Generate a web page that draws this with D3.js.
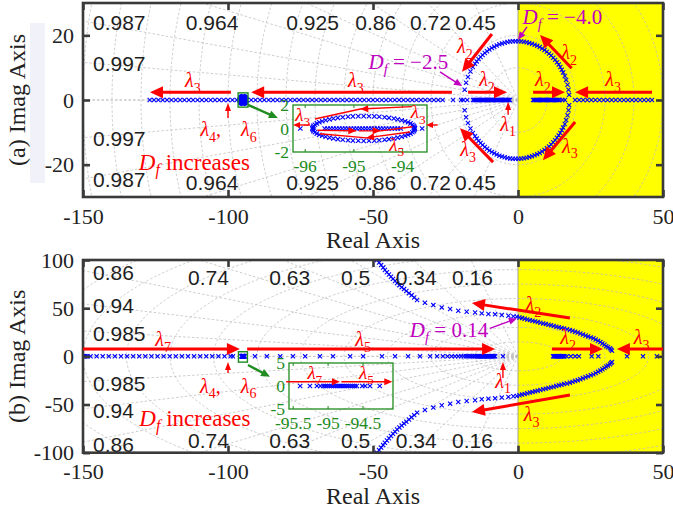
<!DOCTYPE html>
<html><head><meta charset="utf-8">
<script src="https://cdn.jsdelivr.net/npm/d3@7"></script>
<style>body{margin:0;background:#fff}</style>
</head><body><svg id="c" width="673" height="514"></svg>
<script>
// ================= DATA =================
const xTicks = [-150, -100, -50, 0, 50];
const yTicksA = [-20, 0, 20];
const yTicksB = [-100, -50, 0, 50, 100];
const zetaA = [0.45, 0.72, 0.86, 0.925, 0.964, 0.987, 0.997];
const zetaB = [0.16, 0.34, 0.5, 0.63, 0.74, 0.86, 0.94, 0.985];
const wnA = [10, 20, 30, 40, 50, 60, 70, 80, 90, 100, 110, 120, 130, 140, 150, 160];
const wnB = [15, 30, 45, 60, 75, 90, 105, 120, 135, 150, 165, 180];

// (a) poles on the real axis
const aReal = [-127,-125.5,-124,-122.5,-121,-119.5,-118,-116.5,-115,-113.5,-112,-110.5,-109,-107.5,-106,-104.5,-103,-101.5,-100,-98.5,-97,-96.1,-93.6,-92,-90.5,-89,-87.5,-86,-84.5,-83,-81.5,-80,-78.5,-77,-75.5,-74,-72.5,-71,-69.5,-68,-66.5,-65,-63.5,-62,-60.5,-59,-57.5,-56,-54.5,-53,-51.5,-50,-48.5,-47,-45.5,-44,-42.5,-41,-39.5,-38,-36.5,-35,-33.5,-32,-30.5,-29,-27.5,-26,-22.4,-19.6,-18.8,-17.5,-15.5,-15.1,-14.7,-14.3,-13.9,-13.5,-13.1,-12.7,-12.3,-11.9,-11.5,-11.1,-10.7,-10.3,-9.9,-9.5,-9.1,-8.7,-8.3,-7.9,-7.5,-7.1,-6.7,-6.3,-5.9,-5.5,-5.1,-4.7,-4.3,-3.9,-3.5,-3.1,-2.8,
  5.2,5.6,6,6.4,6.8,7.2,7.6,8,8.4,8.8,9.2,9.6,10,10.4,10.8,11.2,11.6,12,12.4,12.8,13.2,13.6,14,14.4,15.3,16.2,19.7,21.1,22.5,23.9,25.3,26.7,28.1,29.5,30.9,32.3,33.7,35.1,36.5,37.9,39.3,40.7,42.1,43.5,44.9,46.2];
// (a) complex pair loop (upper half; lower half is the conjugate)
const aLoopUpper = [[-18.4,3.16],[-17.9,5.32],[-17.25,7.11],[-16.4,8.82],[-15.6,10.2],[-14.84,11.2],[-14.24,11.94],[-13.6,12.64],[-12.9,13.3],[-12.2,13.94],[-11.45,14.53],[-10.68,15.09],[-9.87,15.6],[-9.04,16.07],[-8.19,16.49],[-7.32,16.87],[-6.43,17.21],[-5.52,17.49],[-4.59,17.73],[-3.66,17.92],[-2.72,18.06],[-1.77,18.16],[-0.82,18.2],[0.14,18.19],[1.09,18.13],[2.03,18.02],[2.97,17.87],[3.9,17.66],[4.82,17.4],[5.72,17.1],[6.61,16.75],[7.48,16.36],[8.32,15.92],[9.14,15.43],[9.94,14.91],[10.7,14.34],[11.44,13.74],[12.14,13.09],[12.81,12.41],[13.44,11.7],[14.04,10.95],[14.59,10.18],[15.1,9.37],[15.57,8.54],[16.13,7.4],[16.6,6.22],[17.08,4.71],[17.42,3.16],[17.63,1.59]];
// (a) zoomed cluster near -95
const aInsetRingUpper = [[-93.75,0],[-93.76,0.11],[-93.77,0.22],[-93.8,0.32],[-93.84,0.43],[-93.89,0.53],[-93.95,0.62],[-94.02,0.7],[-94.1,0.78],[-94.18,0.85],[-94.28,0.91],[-94.37,0.96],[-94.48,1.0],[-94.58,1.03],[-94.69,1.04],[-94.8,1.05],[-94.91,1.04],[-95.02,1.03],[-95.12,1.0],[-95.23,0.96],[-95.33,0.91],[-95.42,0.85],[-95.5,0.78],[-95.58,0.7],[-95.65,0.62],[-95.71,0.53],[-95.76,0.43],[-95.8,0.32],[-95.83,0.22],[-95.84,0.11],[-95.85,0]];
const aInsetLine = [-95.6,-95.54,-95.48,-95.42,-95.36,-95.3,-95.24,-95.18,-95.12,-95.06,-95,-94.94,-94.88,-94.82,-94.76,-94.7,-94.64,-94.58,-94.52,-94.46,-94.4,-94.34,-94.28,-94.22,-94.16,-94.1,-94.04];

// (b) poles on the real axis
const bReal = [-150,-149.7,-149.4,-149.1,-148.5,-147.4,-145.3,-143.2,-141.1,-139,-136.9,-134.8,-132.7,-130.6,-128.5,-126.4,-124.3,-122.2,-120.1,-118,-115.9,-113.8,-111.7,-109.6,-107.5,-105.4,-103.3,-101.2,-99.1,-98.3,-90.7,-86.6,-82,-77.6,-73.4,-68.3,-63.8,-57.9,-53.4,-46.9,-42.4,-37.9,-33.8,-30.3,-27.9,-25.9,-24.3,-22.9,-21.7,-20.6,-19.6,-18.7,-17.9,-17.2,-16.5,-15.9,-15.3,-14.8,-14.3,-13.9,-13.6,-13.3,-13,-12.7,-12.4,-12.1,-11.8,-11.5,-11.2,-10.9,-10.6,-10.3,-10,-9.7,-9.4,-9.1,-8.8,-8.5,-8.2,-7.9,-5.2,
  12.1,12.4,12.7,13,13.3,13.6,13.9,14.2,14.5,14.8,15.1,15.4,15.7,16,16.8,18.2,19.7,21,25.4,27.7,37.6,43.1,47.9];
// (b) complex branch (upper half; lower half is the conjugate)
const bBranchUpper = [[-49.6,104],[-48.6,100],[-47.9,97.3],[-47.2,94.7],[-46.5,92.1],[-45.9,89.6],[-45.2,87.3],[-44.5,85],[-43.8,82.7],[-43.1,80.4],[-42.4,78.2],[-41.7,76],[-40.9,73.9],[-40.1,71.8],[-39.3,69.8],[-38.5,67.8],[-37.6,65.6],[-36.7,63.3],[-35.8,61],[-34.8,58.4],[-32.1,55.6],[-29.2,53.2],[-26.3,50.8],[-23.4,49.1],[-20.6,47.3],[-17.7,46.3],[-14.8,45.6],[-12.5,44.6],[-10.2,43.9],[-7.9,43.6],[-5.6,42.8],[-3.3,42.1],[-1.6,41.5],[-0.4,41.1],[0.5,40.4],[1.4,39.7],[2.3,39],[3.2,38.3],[4.1,37.6],[5,36.9],[5.9,36.3],[6.8,35.6],[7.7,34.9],[8.7,34.2],[9.6,33.5],[10.5,32.8],[11.4,32.2],[12.3,31.5],[13.2,30.8],[14.1,30.1],[15,29.5],[15.9,28.8],[16.9,28.1],[17.9,27.3],[18.8,26.5],[19.7,25.6],[20.6,24.7],[21.5,23.7],[22.4,22.7],[23.3,21.7],[24.2,20.7],[25.1,19.7],[26,18.7],[26.8,17.4],[27.6,16.1],[28.4,14.8],[29.1,13.4],[29.8,12],[30.4,10.6],[31,9.4],[31.7,8.3],[32.1,7],[32.4,5.8]];
// (b) zoomed cluster near -95
const bInsetLine = [-95.4,-95.26,-95.16,-95.11,-95.07,-95.04,-95.01,-94.98,-94.95,-94.92,-94.89,-94.86,-94.83,-94.8,-94.77,-94.74,-94.71,-94.68,-94.65,-94.62,-94.59,-94.51,-94.47,-94.4,-94.26];

// ================= DRAWING =================
const W = 673, H = 514, L = 83, R = 663;
const RED = "#ff0000", MAG = "#c000c0", GRN = "#1e8c1e", BLUE = "#0000ff";
const SERIF = "'Liberation Serif','Times New Roman',serif";
const SANS = "'Liberation Sans',Arial,sans-serif";
const svg = d3.select("#c");
svg.append("rect").attr("width", W).attr("height", H).attr("fill", "#fff");
const defs = svg.append("defs");

function arrow(g, p1, p2, color, width, hl, hw) {
  const dx = p2[0] - p1[0], dy = p2[1] - p1[1], len = Math.hypot(dx, dy);
  const ux = dx / len, uy = dy / len, bx = p2[0] - ux * hl, by = p2[1] - uy * hl;
  g.append("line").attr("x1", p1[0]).attr("y1", p1[1]).attr("x2", bx + ux).attr("y2", by + uy)
    .attr("stroke", color).attr("stroke-width", width);
  g.append("path").attr("d", `M${p2[0]},${p2[1]}L${bx - uy * hw / 2},${by + ux * hw / 2}L${bx + uy * hw / 2},${by - ux * hw / 2}Z`)
    .attr("fill", color);
}
function headAt(g, p1, p2, color, hl, hw) {
  const dx = p2[0] - p1[0], dy = p2[1] - p1[1], len = Math.hypot(dx, dy);
  const ux = dx / len, uy = dy / len, bx = p2[0] - ux * hl, by = p2[1] - uy * hl;
  g.append("path").attr("d", `M${p2[0]},${p2[1]}L${bx - uy * hw / 2},${by + ux * hw / 2}L${bx + uy * hw / 2},${by - ux * hw / 2}Z`)
    .attr("fill", color);
}
function lam(g, px, py, subs, color, fs) {
  fs = fs || 20;
  const t = g.append("text").attr("x", px).attr("y", py).attr("dy", "0.3em").attr("text-anchor", "middle")
    .attr("font-family", SERIF).attr("font-size", fs).attr("fill", color || RED);
  subs.forEach((s, i) => {
    if (i > 0) t.append("tspan").attr("dy", -fs * 0.28).text(",\u2002\u2002");
    t.append("tspan").attr("font-style", "italic").text("\u03bb");
    t.append("tspan").attr("font-size", fs * 0.7).attr("dy", fs * 0.28).text(s);
  });
}
function dfText(g, px, py, rest, color, fs) {
  const t = g.append("text").attr("x", px).attr("y", py).attr("dy", "0.33em").attr("text-anchor", "middle")
    .attr("font-family", SERIF).attr("font-size", fs).attr("fill", color);
  t.append("tspan").attr("font-style", "italic").text("D");
  t.append("tspan").attr("font-style", "italic").attr("font-size", fs * 0.7).attr("dy", fs * 0.25).text("f");
  t.append("tspan").attr("dy", -fs * 0.25).text(rest);
}
const crossD = s => `M${-s},${-s}L${s},${s}M${-s},${s}L${s},${-s}`;
function crosses(g, pts, x, y, s, w) {
  g.append("g").selectAll("path").data(pts).join("path")
    .attr("transform", d => `translate(${x(d[0])},${y(d[1])})`)
    .attr("d", crossD(s)).attr("fill", "none").attr("stroke", BLUE).attr("stroke-width", w);
}

function drawPanel(p) {
  const x = d3.scaleLinear().domain([-150, 50]).range([L, R]);
  const y = d3.scaleLinear().domain(p.yDom).range([p.bottom, p.top]);
  const g = svg.append("g");
  defs.append("clipPath").attr("id", "clip" + p.id).append("rect")
    .attr("x", L).attr("y", p.top).attr("width", R - L).attr("height", p.bottom - p.top);
  const pg = g.append("g").attr("clip-path", `url(#clip${p.id})`);
  pg.append("rect").attr("x", x(0)).attr("y", p.top).attr("width", x(50) - x(0)).attr("height", p.bottom - p.top).attr("fill", "#ffff00");
  pg.append("line").attr("x1", x(0)).attr("x2", x(0)).attr("y1", p.top).attr("y2", p.bottom).attr("stroke", "#888").attr("stroke-width", 0.8);
  // s-plane grid
  const grid = pg.append("g").attr("fill", "none").attr("stroke", "#bcbcbc").attr("stroke-width", 0.75).attr("stroke-dasharray", "2.5,2");
  p.wn.forEach(r => grid.append("ellipse").attr("cx", x(0)).attr("cy", y(0)).attr("rx", x(r) - x(0)).attr("ry", y(0) - y(r)));
  p.zetas.concat([1]).forEach(z => {
    const th = Math.acos(z);
    [1, -1].forEach(s => grid.append("line").attr("x1", x(0)).attr("y1", y(0))
      .attr("x2", x(-1000 * Math.cos(th))).attr("y2", y(s * 1000 * Math.sin(th))));
  });
  // poles
  crosses(pg, p.points, x, y, 2.1, 1.1);
  // damping labels
  const ymax = p.yDom[1];
  const lg = g.append("g").attr("font-family", SANS).attr("font-size", 21).attr("fill", "#1e1e1e").attr("dominant-baseline", "central");
  p.zetas.forEach(z => {
    const t = Math.tan(Math.acos(z));
    const xt = -(ymax * 0.97) / t;
    if (xt > -150) {
      lg.append("text").attr("x", x(xt)).attr("y", p.top + p.lblTop).attr("text-anchor", "middle").text(z);
      lg.append("text").attr("x", x(xt)).attr("y", p.bottom - p.lblBot).attr("text-anchor", "middle").text(z);
    } else {
      const yv = 150 * t;
      lg.append("text").attr("x", L + 10).attr("y", y(yv) + p.lblOff).text(z);
      lg.append("text").attr("x", L + 10).attr("y", y(-yv) + p.lblOff).text(z);
    }
  });
  // axes
  const fmt = d => String(d);
  const ax = (gen) => g.append("g").call(gen).call(s => s.select(".domain").remove())
    .call(s => s.selectAll(".tick line").attr("stroke", "#3a3a3a").attr("stroke-width", 2.6))
    .call(s => s.selectAll(".tick text").attr("font-family", SERIF).attr("font-size", 22).attr("fill", "#222"));
  ax(d3.axisBottom(x).tickValues(xTicks).tickFormat(fmt).tickSizeInner(-7).tickSizeOuter(0).tickPadding(11)).attr("transform", `translate(0,${p.bottom})`);
  ax(d3.axisTop(x).tickValues(xTicks).tickFormat("").tickSizeInner(-7).tickSizeOuter(0)).attr("transform", `translate(0,${p.top})`);
  ax(d3.axisLeft(y).tickValues(p.yTicks).tickFormat(fmt).tickSizeInner(-7).tickSizeOuter(0).tickPadding(9)).attr("transform", `translate(${L},0)`);
  ax(d3.axisRight(y).tickValues(p.yTicks).tickFormat("").tickSizeInner(-7).tickSizeOuter(0)).attr("transform", `translate(${R},0)`);
  g.append("rect").attr("x", L).attr("y", p.top).attr("width", R - L).attr("height", p.bottom - p.top)
    .attr("fill", "none").attr("stroke", "#3a3a3a").attr("stroke-width", 2.6);
  // axis titles
  g.append("text").attr("x", (L + R) / 2).attr("y", p.bottom + 51).attr("text-anchor", "middle")
    .attr("font-family", SERIF).attr("font-size", 24).attr("fill", "#222").text("Real Axis");
  if (p.band) g.insert("rect", ":first-child").attr("x", 30).attr("y", 23).attr("width", 15).attr("height", 160).attr("fill", "#f1f1fa");
  g.append("text").attr("transform", `translate(17,${(p.top + p.bottom) / 2}) rotate(-90)`).attr("text-anchor", "middle")
    .attr("dominant-baseline", "central").attr("font-family", SERIF).attr("font-size", 24).attr("fill", "#222").text(p.ylabel);

  // annotations
  const an = g.append("g");
  p.arrows.forEach(a => arrow(an, [x(a[0][0]), y(a[0][1])], [x(a[1][0]), y(a[1][1])], RED, a[2] ? 1.4 : 3, a[2] ? 8 : 13, a[2] ? 6 : 12));
  p.lams.forEach(l => lam(an, x(l[0]), y(l[1]), l[2]));
  dfText(an, x(p.incr[0]), y(p.incr[1]), " increases", RED, 23);
  p.mags.forEach(m => {
    arrow(an, [x(m.from[0]), y(m.from[1])], [x(m.to[0]), y(m.to[1])], MAG, 1.5, 8, 7);
    dfText(an, x(m.at[0]), y(m.at[1]), m.txt, MAG, 21);
  });
  // small box + connector
  an.append("rect").attr("x", x(p.small[0])).attr("y", y(p.small[3])).attr("width", x(p.small[1]) - x(p.small[0]))
    .attr("height", y(p.small[2]) - y(p.small[3])).attr("fill", "none").attr("stroke", GRN).attr("stroke-width", 1.4);
  arrow(an, [x(p.conn[0][0]), y(p.conn[0][1])], [x(p.conn[1][0]), y(p.conn[1][1])], GRN, 2.4, 9, 8);

  // inset
  const b = p.inset;
  const xi = d3.scaleLinear().domain(b.xd).range([b.x0, b.x1]);
  const yi = d3.scaleLinear().domain(b.yd).range([b.y1, b.y0]);
  const ig = g.append("g");
  defs.append("clipPath").attr("id", "iclip" + p.id).append("rect").attr("x", b.x0).attr("y", b.y0).attr("width", b.x1 - b.x0).attr("height", b.y1 - b.y0);
  const ipg = ig.append("g").attr("clip-path", `url(#iclip${p.id})`);
  crosses(ipg, b.points, xi, yi, 2.2, 1.1);
  ig.append("rect").attr("x", b.x0).attr("y", b.y0).attr("width", b.x1 - b.x0).attr("height", b.y1 - b.y0)
    .attr("fill", "none").attr("stroke", GRN).attr("stroke-width", 1.3);
  b.xt.forEach(v => {
    ig.append("line").attr("x1", xi(v)).attr("x2", xi(v)).attr("y1", b.y1).attr("y2", b.y1 - 3).attr("stroke", GRN);
    ig.append("line").attr("x1", xi(v)).attr("x2", xi(v)).attr("y1", b.y0).attr("y2", b.y0 + 3).attr("stroke", GRN);
    ig.append("text").attr("x", xi(v)).attr("y", b.y1 + 20).attr("text-anchor", "middle").attr("font-family", SERIF)
      .attr("font-size", 17.5).attr("fill", GRN).text(String(v));
  });
  b.yt.forEach(v => {
    ig.append("text").attr("x", b.x0 - 4).attr("y", yi(v)).attr("dy", "0.35em").attr("text-anchor", "end").attr("font-family", SERIF)
      .attr("font-size", 17.5).attr("fill", GRN).text(String(v));
  });
  b.draw(ig, xi, yi);
}

drawPanel({
  id: "a", top: 3, bottom: 197, yDom: [-30, 30], yTicks: yTicksA, zetas: zetaA, wn: wnA,
  lblTop: 19.5, lblBot: 15, lblOff: 1, band: true, ylabel: "(a) Imag Axis",
  points: aReal.map(v => [v, 0]).concat(aLoopUpper, aLoopUpper.map(d => [d[0], -d[1]]),
    aInsetRingUpper, aInsetRingUpper.map(d => [d[0], -d[1]]), aInsetLine.map(v => [v, 0])),
  arrows: [
    [[-99, 2.4], [-126.9, 2.4]], [[-22.8, 2.4], [-92, 2.4]], [[-17.2, 2.4], [-3.8, 2.4]],
    [[-3.4, -4.6], [-3.4, -0.6], 1], [[-9, 20.4], [-19.3, 8.7]], [[-8.6, -19.2], [-20, -8.7]],
    [[18.5, 9.8], [7.6, 20.1]], [[19.7, -6.8], [8.6, -18.6]], [[5.2, 2.4], [16.2, 2.4]],
    [[46.2, 2.4], [19.7, 2.4]], [[-100, -5.6], [-100, -0.9], 1]],
  lams: [[-112.1, 5.9, ["3"]], [-55.9, 5.9, ["3"]], [-10.7, 6.2, ["2"]], [-3.4, -7.7, ["1"]],
    [-18.3, 16.4, ["2"]], [-17.2, -15.5, ["3"]], [17.6, 14.5, ["2"]], [17.9, -14.5, ["3"]],
    [8.6, 6.2, ["2"]], [32.8, 6.2, ["3"]], [-99.8, -9.3, ["4", "6"]]],
  incr: [-111.6, -19.2],
  mags: [{ from: [-26.9, 8.7], to: [-19.3, 4.3], at: [-37.8, 11.8], txt: " = \u22122.5" },
         { from: [3.1, 22.6], to: [0, 18.6], at: [15.3, 25.7], txt: " = \u22124.0" }],
  small: [-96.5, -93.1, -2.2, 2.2], conn: [[-93.1, -1.5], [-82.8, -5.6]],
  inset: {
    x0: 293, x1: 427, y0: 105, y1: 152, xd: [-96.25, -93.5], yd: [-2, 2], xt: [-96, -95, -94], yt: [2, 0, -2],
    points: aInsetRingUpper.concat(aInsetRingUpper.map(d => [d[0], -d[1]]), aInsetLine.map(v => [v, 0]), aReal.map(v => [v, 0])),
    draw: (g, xi, yi) => {
      const P = d => [xi(d[0]), yi(d[1])];
      const line = pts => g.append("polyline").attr("points", pts.map(P).map(q => q.join(",")).join(" "))
        .attr("fill", "none").attr("stroke", RED).attr("stroke-width", 1.4);
      const top = [[-93.81, 1.86], [-94.87, 1.66], [-95.8, 0.81]];
      line(top); headAt(g, P(top[0]), P(top[1]), RED, 8, 7);
      const r1 = [[-95.75, -0.15], [-94.95, -0.2]]; line(r1); headAt(g, P(r1[0]), P(r1[1]), RED, 8, 7);
      const r2 = [[-94.9, -0.2], [-94.45, -0.2], [-93.8, 0.15]]; line(r2); headAt(g, P(r2[0]), P(r2[1]), RED, 8, 7);
      const l1 = [[-93.85, -0.3], [-94.75, -0.8], [-95.7, -0.45]]; line(l1); headAt(g, P(l1[0]), P(l1[1]), RED, 8, 7);
      arrow(g, P([-95.9, 0.3]), P([-96.25, 0.3]), RED, 1.4, 7, 6);
      arrow(g, P([-93.28, 0.3]), P([-93.52, 0.3]), RED, 1.4, 7, 6);
      lam(g, xi(-96.05), yi(1.15), ["3"], RED, 19);
      lam(g, xi(-93.68), yi(1.35), ["3"], RED, 19);
      lam(g, xi(-94.12), yi(-1.4), ["5"], RED, 19);
    }
  }
});

drawPanel({
  id: "b", top: 260, bottom: 452.7, yDom: [-100, 100], yTicks: yTicksB, zetas: zetaB, wn: wnB,
  lblTop: 17, lblBot: 12, lblOff: 2, band: false, ylabel: "(b) Imag Axis",
  points: bReal.map(v => [v, 0]).concat(bBranchUpper, bBranchUpper.map(d => [d[0], -d[1]]), bInsetLine.map(v => [v, 0])),
  arrows: [
    [[-150, 7.6], [-95.9, 7.6]], [[-93.4, 7.6], [-7.9, 7.6]], [[-5.2, -22.5], [-5.2, -5.9], 1],
    [[17.9, 39.7], [-15.9, 55.3]], [[17.9, -40.2], [-15.9, -57.8]], [[11.7, 7.6], [29.3, 7.6]],
    [[50, 7.6], [34.1, 7.6]], [[-100, -17.3], [-100, -5.9], 1]],
  lams: [[-122.4, 16.9, ["7"]], [-53.4, 16.9, ["5"]], [-5.1, -26.3, ["1"]], [5.3, 53.2, ["2"]],
    [4.7, -60.9, ["3"]], [17.3, 18.7, ["2"]], [42.6, 18.7, ["3"]], [-99.9, -31.5, ["4", "6"]]],
  incr: [-111.4, -64],
  mags: [{ from: [-9.7, 29], to: [-0.4, 39.4], at: [-23.8, 27.3], txt: " = 0.14" }],
  small: [-96.4, -93.3, -6, 4.8], conn: [[-93.1, -9], [-85.5, -21.2]],
  inset: {
    x0: 289, x1: 393, y0: 363, y1: 409, xd: [-95.56, -94.07], yd: [-5, 5], xt: [-95.5, -95, -94.5], yt: [5, 0, -5],
    points: bInsetLine.map(v => [v, 0]),
    draw: (g, xi, yi) => {
      const P = d => [xi(d[0]), yi(d[1])];
      arrow(g, P([-95.6, 0.93]), P([-94.83, 0.93]), RED, 1.4, 8, 7);
      arrow(g, P([-94.81, 0.93]), P([-94.08, 0.93]), RED, 1.4, 8, 7);
      lam(g, xi(-95.19), yi(2.8), ["7"], RED, 19);
      lam(g, xi(-94.45), yi(2.8), ["5"], RED, 19);
    }
  }
});
</script></body></html>
